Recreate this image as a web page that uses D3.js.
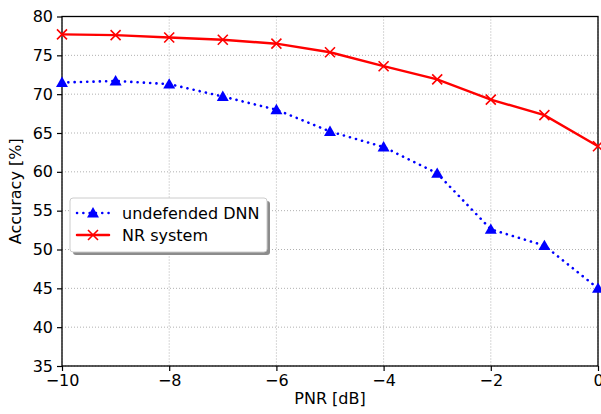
<!DOCTYPE html>
<html>
<head>
<meta charset="utf-8">
<script src="https://cdn.jsdelivr.net/npm/d3@7"></script>
<style>
  body { margin: 0; background: #fff; }
  text { font-family: "DejaVu Sans", sans-serif; }
</style>
</head>
<body>
<svg id="chart"></svg>
<script>
// values
const pnr = [-10, -9, -8, -7, -6, -5, -4, -3, -2, -1, 0];
const undefendedDNN = [71.5, 71.7, 71.3, 69.7, 68.0, 65.2, 63.2, 59.8, 52.6, 50.5, 45.0];
const nrSystem = [77.7, 77.6, 77.3, 77.0, 76.5, 75.4, 73.6, 71.9, 69.3, 67.3, 63.3];
const xTicks = [-10, -8, -6, -4, -2, 0];
const yTicks = [35, 40, 45, 50, 55, 60, 65, 70, 75, 80];

function main() {
    const width = 601;
    const height = 414;
    const left = 62, right = 598, top = 16.5, bottom = 366;

    let svg = d3.select("#chart")
        .attr("width", width)
        .attr("height", height);

    const x = d3.scaleLinear().domain([-10, 0]).range([left, right]);
    const y = d3.scaleLinear().domain([35, 80]).range([bottom, top]);

    // grid
    let grid = svg.append("g");
    grid.selectAll(".gx")
        .data(xTicks)
        .join("line")
        .attr("x1", d => x(d)).attr("x2", d => x(d))
        .attr("y1", top).attr("y2", bottom)
        .attr("stroke", "#b0b0b0")
        .attr("stroke-width", 1)
        .attr("stroke-dasharray", "1,2");
    grid.selectAll(".gy")
        .data(yTicks)
        .join("line")
        .attr("x1", left).attr("x2", right)
        .attr("y1", d => y(d)).attr("y2", d => y(d))
        .attr("stroke", "#b0b0b0")
        .attr("stroke-width", 1)
        .attr("stroke-dasharray", "1,2");

    // axes
    const xAxis = d3.axisBottom(x).tickValues(xTicks).tickSize(5).tickPadding(4)
        .tickFormat(d => d < 0 ? "\u2212" + Math.abs(d) : d);
    const yAxis = d3.axisLeft(y).tickValues(yTicks).tickSize(5).tickPadding(4);

    let gx = svg.append("g").attr("transform", `translate(0,${bottom})`).call(xAxis);
    let gy = svg.append("g").attr("transform", `translate(${left},0)`).call(yAxis);
    [gx, gy].forEach(g => {
        g.select(".domain").remove();
        g.selectAll("line").attr("stroke", "#000").attr("stroke-width", 1.2);
        g.selectAll("text").attr("font-size", 16).attr("fill", "#000")
            .attr("font-family", "DejaVu Sans, sans-serif");
    });

    // frame
    svg.append("rect")
        .attr("x", left).attr("y", top)
        .attr("width", right - left).attr("height", bottom - top)
        .attr("fill", "none").attr("stroke", "#000").attr("stroke-width", 1.3);

    // axis labels
    svg.append("text")
        .attr("x", (left + right) / 2).attr("y", 404)
        .attr("text-anchor", "middle").attr("font-size", 16)
        .text("PNR [dB]");
    svg.append("text")
        .attr("transform", `translate(21,${(top + bottom) / 2}) rotate(-90)`)
        .attr("text-anchor", "middle").attr("font-size", 16)
        .text("Accuracy [%]");

    let plot = svg.append("g");

    const line = d3.line().x(d => x(d[0])).y(d => y(d[1]));
    const blueData = pnr.map((p, i) => [p, undefendedDNN[i]]);
    const redData = pnr.map((p, i) => [p, nrSystem[i]]);

    const tri = d3.symbol().type(d3.symbolTriangle).size(62);
    const cross = "M-5,-5L5,5M-5,5L5,-5";

    // undefended DNN
    plot.append("path")
        .datum(blueData)
        .attr("d", line)
        .attr("fill", "none")
        .attr("stroke", "blue")
        .attr("stroke-width", 2.6)
        .attr("stroke-linecap", "round")
        .attr("stroke-dasharray", "0.1,6.2");
    plot.selectAll(".tri")
        .data(blueData)
        .join("path")
        .attr("d", tri)
        .attr("transform", d => `translate(${x(d[0])},${y(d[1]) + 1})`)
        .attr("fill", "blue");

    // NR system
    plot.append("path")
        .datum(redData)
        .attr("d", line)
        .attr("fill", "none")
        .attr("stroke", "red")
        .attr("stroke-width", 2.4);
    plot.selectAll(".cross")
        .data(redData)
        .join("path")
        .attr("d", cross)
        .attr("transform", d => `translate(${x(d[0])},${y(d[1])})`)
        .attr("stroke", "red")
        .attr("stroke-width", 1.6)
        .attr("fill", "none");

    // legend
    let lg = svg.append("g");
    lg.append("rect")
        .attr("x", 73).attr("y", 201).attr("width", 197).attr("height", 54)
        .attr("rx", 3).attr("fill", "#8c8c8c");
    lg.append("rect")
        .attr("x", 70).attr("y", 198).attr("width", 197).attr("height", 54)
        .attr("rx", 3).attr("fill", "#fff").attr("stroke", "#cccccc").attr("stroke-width", 1);

    const items = [
        { name: "undefended DNN", color: "blue", dash: "0.1,6.2", marker: "tri" },
        { name: "NR system", color: "red", dash: null, marker: "cross" }
    ];
    items.forEach((it, i) => {
        const cy = 213 + i * 22;
        lg.append("line")
            .attr("x1", 77).attr("x2", 109).attr("y1", cy).attr("y2", cy)
            .attr("stroke", it.color).attr("stroke-width", 2.5)
            .attr("stroke-linecap", "round")
            .attr("stroke-dasharray", it.dash);
        if (it.marker === "tri") {
            lg.append("path").attr("d", tri)
                .attr("transform", `translate(93,${cy + 1})`).attr("fill", "blue");
        } else {
            lg.append("path").attr("d", cross)
                .attr("transform", `translate(93,${cy})`)
                .attr("stroke", "red").attr("stroke-width", 1.6);
        }
        lg.append("text")
            .attr("x", 122).attr("y", cy + 6)
            .attr("font-size", 16)
            .text(it.name);
    });
}

main();
</script>
</body>
</html>
